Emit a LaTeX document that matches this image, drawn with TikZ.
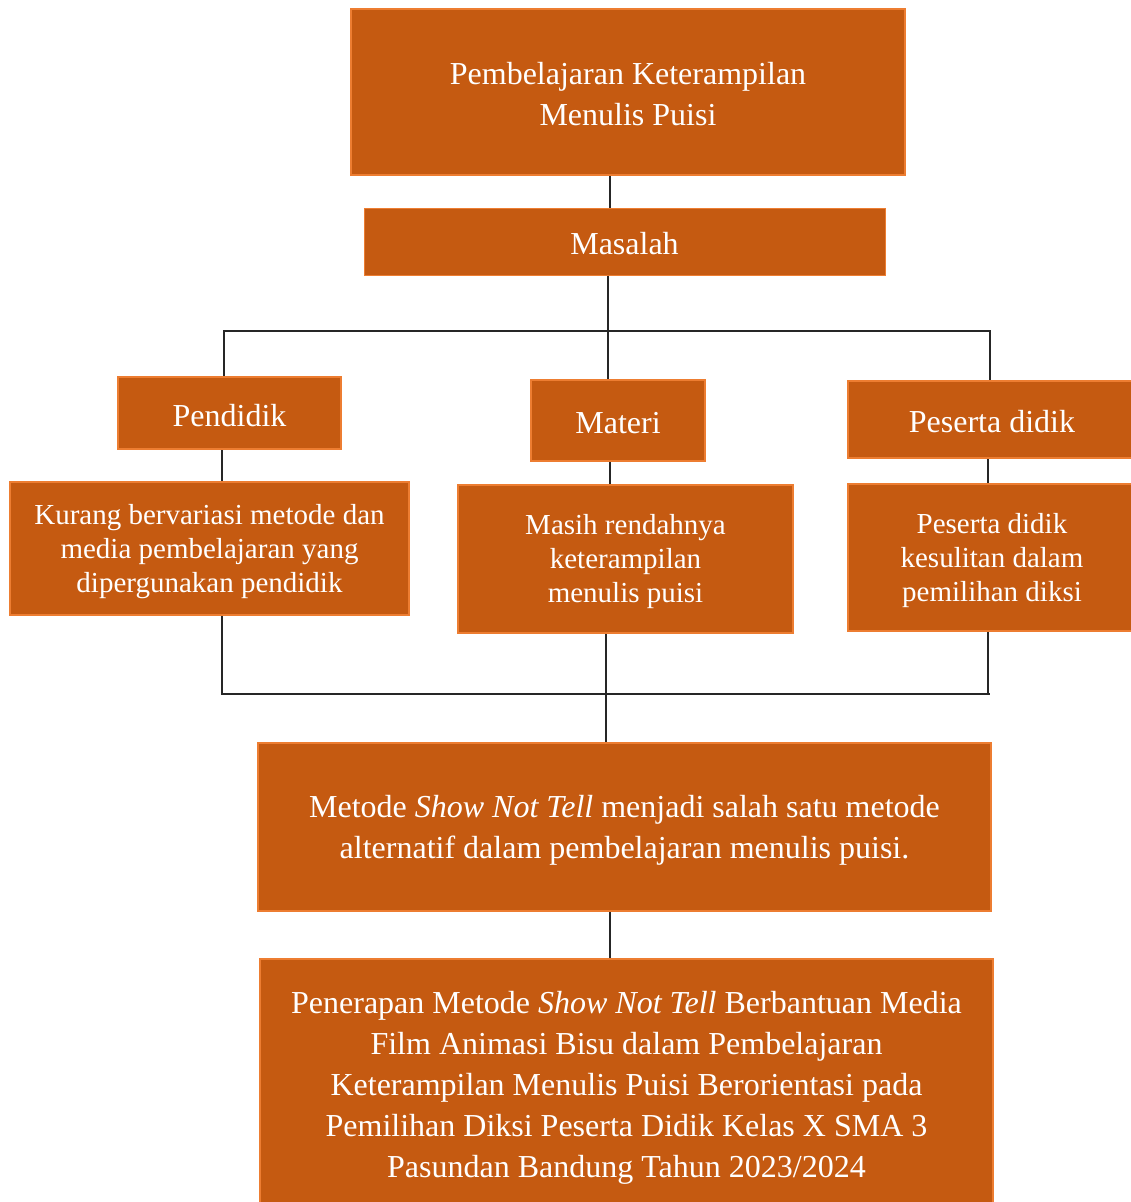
\documentclass[tikz,border=0pt]{standalone}
\usepackage{fontspec}
\setmainfont{Liberation Serif}
\definecolor{boxfill}{HTML}{C55A11}
\definecolor{boxedge}{HTML}{ED7D31}
\newcommand\bstrut{\rule[-0.06em]{0pt}{0.96em}}
\begin{document}
\begin{tikzpicture}[x=1pt,y=-1pt,
  box/.style={rectangle, fill=boxfill, draw=boxedge, line width=2.5pt, text=white, align=center, inner sep=0pt},
  big/.style={font=\fontsize{32}{41}\selectfont},
  small/.style={font=\fontsize{29}{34}\selectfont},
  conn/.style={draw=black!85, line width=1.5pt}]
\useasboundingbox (0,0) rectangle (1130,1202);
% nodes
\node[box,big,minimum width=554pt,minimum height=166pt] (top) at (628,92) {\bstrut Pembelajaran Keterampilan\\\bstrut Menulis Puisi};
\node[box,big,line width=1pt,minimum width=521pt,minimum height=67pt] (masalah) at (624.5,241.5) {\bstrut Masalah};
\node[box,big,minimum width=223pt,minimum height=72pt] (pendidik) at (229.5,413) {\bstrut Pendidik};
\node[box,big,minimum width=174pt,minimum height=81pt] (materi) at (618,420.5) {\bstrut Materi};
\node[box,big,minimum width=288pt,minimum height=77pt] (peserta) at (992,419.5) {\bstrut Peserta didik};
\node[box,small,minimum width=399pt,minimum height=133pt] (kurang) at (209.5,548.5) {\bstrut Kurang bervariasi metode dan\\media pembelajaran yang\\\bstrut dipergunakan pendidik};
\node[box,small,minimum width=335pt,minimum height=148pt] (masih) at (625.5,559) {\bstrut Masih rendahnya\\keterampilan\\\bstrut menulis puisi};
\node[box,small,minimum width=288pt,minimum height=147pt] (kesulitan) at (992,557.5) {\bstrut Peserta didik\\kesulitan dalam\\\bstrut pemilihan diksi};
\node[box,big,minimum width=733pt,minimum height=168pt] (metode) at (624.5,827) {\bstrut Metode \textit{Show Not Tell} menjadi salah satu metode\\\bstrut alternatif dalam pembelajaran menulis puisi.};
\node[box,big,minimum width=733pt,minimum height=252pt] (penerapan) at (626.5,1085) {\bstrut Penerapan Metode \textit{Show Not Tell} Berbantuan Media\\Film Animasi Bisu dalam Pembelajaran\\Keterampilan Menulis Puisi Berorientasi pada\\Pemilihan Diksi Peserta Didik Kelas X SMA 3\\\bstrut Pasundan Bandung Tahun 2023/2024};
% junction coordinates
\coordinate (xa) at (610,0);
\coordinate (hb) at (608,331);
\coordinate (hl) at (224,331);
\coordinate (hr) at (990,331);
\coordinate (xp) at (222,0);
\coordinate (xs) at (988,0);
\coordinate (bl) at (222,694);
\coordinate (br) at (990,694);
\coordinate (xm) at (606,694);
% connectors
\draw[conn] (top.south -| xa) -- (masalah.north -| xa);
\draw[conn] (masalah.south -| hb) -- (materi.north -| hb);
\draw[conn] (hl |- pendidik.north) -- (hl) -- (hr) -- (hr |- peserta.north);
\draw[conn] (pendidik.south -| xp) -- (kurang.north -| xp);
\draw[conn] (materi.south -| xa) -- (masih.north -| xa);
\draw[conn] (peserta.south -| xs) -- (kesulitan.north -| xs);
\draw[conn] (kurang.south -| bl) -- (bl) -- (br);
\draw[conn] (kesulitan.south -| xs) -- (xs |- br);
\draw[conn] (masih.south -| xm) -- (metode.north -| xm);
\draw[conn] (metode.south -| xa) -- (penerapan.north -| xa);
\end{tikzpicture}
\end{document}
